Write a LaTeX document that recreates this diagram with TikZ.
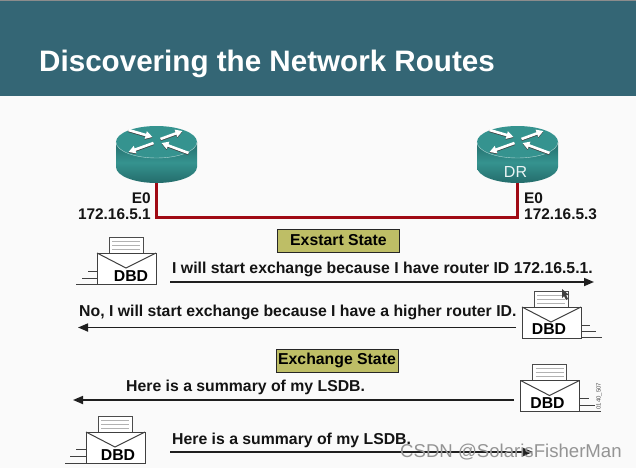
\documentclass[tikz,border=0pt]{standalone}
\usepackage{fontspec}
\setmainfont{Liberation Sans}
\usetikzlibrary{arrows.meta}
\definecolor{hdr}{HTML}{346675}
\definecolor{tealA}{HTML}{35938F}
\definecolor{tealD}{HTML}{246C6B}
\definecolor{wire}{HTML}{A00A14}
\definecolor{state}{HTML}{BEBE66}
\tikzset{
  x=1pt,y=-1pt,
  lbl/.style={font=\bfseries\fontsize{15.8}{17}\selectfont,inner sep=0pt,text=black!92},
  iplbl/.style={font=\bfseries\fontsize{15.4}{17}\selectfont,inner sep=0pt,text=black!92},
  dbd/.style={font=\bfseries\fontsize{15.8}{17}\selectfont,inner sep=0pt},
  msg/.style={line width=1.7pt,black!88,-{Triangle[length=10pt,width=8pt]}},
  statebox/.style={draw=black!85,line width=1pt,fill=state,minimum width=122pt,minimum height=23pt,inner sep=0pt,font=\bfseries\fontsize{15.8}{17}\selectfont},
  wirel/.style={line width=3pt,wire,line join=miter},
  envline/.style={draw=black!75,line width=1pt},
  paperline/.style={draw=black!30,line width=.8pt},
  rarrow/.style={line width=2.6pt,-{Triangle[length=7pt,width=7.5pt]}},
  pics/router/.style={code={
    \shade[left color=tealD,right color=tealD,middle color=tealA,shading angle=0]
      (-40.5,0) -- (-40.5,25) arc[x radius=40.5,y radius=16,start angle=180,end angle=0] -- (40.5,0) -- cycle;
    \fill[tealA] (0,0) ellipse[x radius=40.5,y radius=16];
    \draw[white!60!tealA,line width=.4pt] (-40.5,0) arc[x radius=40.5,y radius=16,start angle=180,end angle=0];
    \draw[rarrow,black!75] (-28,-11.2) -- (-4,-4.2);
    \draw[rarrow,black!75] (4,-2.2) -- (26,-10.2);
    \draw[rarrow,black!75] (-3,1.8) -- (-28,10.8);
    \draw[rarrow,black!75] (32,11.8) -- (5,1.8);
    \draw[rarrow,white] (-28,-12) -- (-4,-5);
    \draw[rarrow,white] (4,-3) -- (26,-11);
    \draw[rarrow,white] (-3,1) -- (-28,10);
    \draw[rarrow,white] (32,11) -- (5,1);
  }},
  pics/envelope/.style={code={
    \fill[white] (12,-16) rectangle (46,0);
    \draw[draw=black!70,line width=1pt] (12,0) -- (12,-16) -- (46,-16) -- (46,0);
    \foreach \yy in {-12,-8,-4}{\draw[paperline] (15,\yy) -- (43,\yy);}
    \draw[envline,fill=white] (0,0) rectangle (59,31);
    \draw[envline] (0,0) -- (29,15) -- (59,0);
  }}
}
\begin{document}
\begin{tikzpicture}
\useasboundingbox (0,0) rectangle (636,468);
\fill[white!98!black] (0,0) rectangle (636,468);
\fill[hdr] (0,0) rectangle (636,96.5);
\fill[black!45] (0,0) rectangle (636,1);
\node[anchor=base west,inner sep=0pt,text=white,font=\bfseries\fontsize{29.6}{31}\selectfont] (title) at (39,72) {Discovering the Network Routes};

% routers
\pic at (156.5,142) {router};
\pic at (517.5,142) {router};
\coordinate (r1) at (156.5,183);
\coordinate (r2) at (517.5,183);
\coordinate (c1) at (156.5,217);
\coordinate (c2) at (517.5,217);
\draw[wirel] (r1) -- (c1) -- (c2) -- (r2);
\node[text=white!90!tealA,inner sep=0pt,font=\fontsize{16}{18}\selectfont] (dr) at (515.5,172) {DR};

\node[iplbl,anchor=base east] (e0a) at (151,203) {E0};
\node[iplbl,anchor=base east] (ipa) at (151,219) {172.16.5.1};
\node[iplbl,anchor=base west] (e0b) at (524,203) {E0};
\node[iplbl,anchor=base west] (ipb) at (524,219) {172.16.5.3};

% state boxes
\node[statebox] (st1) at (338.5,240.5) {Exstart State};
\node[statebox] (st2) at (337,360.5) {Exchange State};

% envelopes
\pic at (97,253) {envelope};
\coordinate (a1) at (76,284); \coordinate (a2) at (97,284);
\coordinate (a3) at (82,278); \coordinate (a4) at (97,278);
\coordinate (a5) at (88,271); \coordinate (a6) at (97,271);
\draw[envline] (a1) -- (a2) (a3) -- (a4) (a5) -- (a6);
\node[dbd] (d1) at (131,276.5) {DBD};

\pic at (522,307) {envelope};
\coordinate (b1) at (581,337); \coordinate (b2) at (602,337);
\coordinate (b3) at (581,331); \coordinate (b4) at (596,331);
\coordinate (b5) at (581,325); \coordinate (b6) at (590,325);
\draw[envline] (b1) -- (b2) (b3) -- (b4) (b5) -- (b6);
\node[dbd] (d2) at (549,329) {DBD};

\pic at (520.5,380.5) {envelope};
\coordinate (f1) at (579.5,411); \coordinate (f2) at (601,411);
\coordinate (f3) at (579.5,405); \coordinate (f4) at (595,405);
\coordinate (f5) at (579.5,398); \coordinate (f6) at (589,398);
\draw[envline] (f1) -- (f2) (f3) -- (f4) (f5) -- (f6);
\node[dbd] (d3) at (547.5,403) {DBD};
\node[rotate=90,font=\fontsize{6}{7}\selectfont,text=black!70,inner sep=0pt] (code) at (599,396) {0140\_507};

\pic at (86,432) {envelope};
\coordinate (g1) at (65,463); \coordinate (g2) at (86,463);
\coordinate (g3) at (70,456); \coordinate (g4) at (86,456);
\coordinate (g5) at (76,449); \coordinate (g6) at (86,449);
\draw[envline] (g1) -- (g2) (g3) -- (g4) (g5) -- (g6);
\node[dbd] (d4) at (118,455) {DBD};

% messages
\coordinate (m1a) at (170,282); \coordinate (m1b) at (594,282);
\draw[msg] (m1a) -- (m1b);
\node[lbl,anchor=base west] (t1) at (172,273.5) {I will start exchange because I have router ID 172.16.5.1.};
\coordinate (m2a) at (516,327.5); \coordinate (m2b) at (78,327.5);
\draw[msg] (m2a) -- (m2b);
\node[lbl,anchor=base west] (t2) at (79,316.5) {No, I will start exchange because I have a higher router ID.};
\coordinate (m3a) at (514,400); \coordinate (m3b) at (73,400);
\draw[msg] (m3a) -- (m3b);
\node[lbl,anchor=base west] (t3) at (126,391) {Here is a summary of my LSDB.};
\coordinate (m4a) at (170,452); \coordinate (m4b) at (533,452);
\draw[msg] (m4a) -- (m4b);
\node[lbl,anchor=base west] (t4) at (172,444) {Here is a summary of my LSDB.};

% watermark
\node[anchor=base west,inner sep=0pt,text=black!42,font=\fontsize{18.6}{20}\selectfont] (wm) at (400,457) {CSDN @SolarisFisherMan};

% pointer
\fill[black!75] (562,289) -- (562,298) -- (564,296) -- (566,300) -- (568,299) -- (566,295) -- (569,295) -- cycle;
\end{tikzpicture}
\end{document}
